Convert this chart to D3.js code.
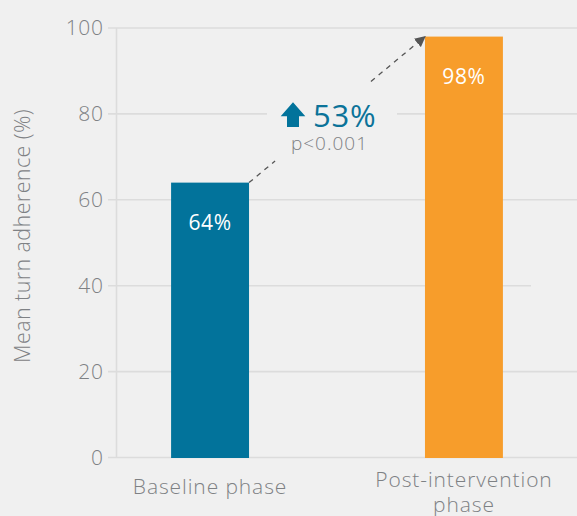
<!DOCTYPE html>
<html>
<head>
<meta charset="utf-8">
<script src="https://cdn.jsdelivr.net/npm/d3@7"></script>
<style>
  html, body { margin: 0; padding: 0; background: #f0f0f0; }
  svg { display: block; font-family: "Open Sans", sans-serif; font-weight: 300; }
</style>
</head>
<body>
<div id="canvas"></div>
<script>
"use strict";

/* ---------- data ---------- */
let categories = ["Baseline phase", "Post-intervention phase"];
let categoryLines = [["Baseline phase"], ["Post-intervention", "phase"]];
let values = [64, 98];
let valueLabels = ["64%", "98%"];
let barColors = ["#02739b", "#f79d2b"];
let yTicks = [0, 20, 40, 60, 80, 100];
let changeLabel = "53%";
let pLabel = "p<0.001";
let yTitle = "Mean turn adherence (%)";

/* ---------- layout ---------- */
let svgWidth = 577;
let svgHeight = 516;
let axisX = 116.5;
let gridColor = "#dcdcdc";
let textGray = "#7e8184";

let svg = d3.select("#canvas")
    .append("svg")
    .attr("width", svgWidth)
    .attr("height", svgHeight);

svg.append("rect")
    .attr("width", svgWidth)
    .attr("height", svgHeight)
    .attr("fill", "#f0f0f0");

/* scales */
let xScale = d3.scaleBand()
    .domain(categories)
    .range([116, 558])
    .paddingInner(0.693)
    .paddingOuter(0.217);

let yScale = d3.scaleLinear()
    .domain([0, 100])
    .range([457.5, 28]);

/* gridlines (the 40 line stops short in the original) */
svg.append("g")
    .selectAll("line")
    .data(yTicks)
    .join("line")
    .attr("x1", 108)
    .attr("x2", d => d === 40 ? 531 : svgWidth)
    .attr("y1", d => yScale(d))
    .attr("y2", d => yScale(d))
    .attr("stroke", gridColor)
    .attr("stroke-width", 1.6);

/* vertical axis line */
svg.append("line")
    .attr("x1", axisX)
    .attr("x2", axisX)
    .attr("y1", yScale(100))
    .attr("y2", yScale(0))
    .attr("stroke", gridColor)
    .attr("stroke-width", 1.6);

/* tick labels */
let yAxis = svg.append("g")
    .attr("transform", "translate(" + axisX + ",0)")
    .call(d3.axisLeft(yScale).tickValues(yTicks).tickSize(0).tickPadding(13));
yAxis.select(".domain").remove();
yAxis.selectAll("text")
    .attr("fill", textGray)
    .style("font-size", "21px")
    .style("font-family", "'Open Sans', sans-serif")
    .style("font-weight", 300)
    .style("letter-spacing", "0.6px");

/* y title */
svg.append("text")
    .attr("transform", "translate(30," + 236 + ") rotate(-90)")
    .attr("text-anchor", "middle")
    .attr("fill", textGray)
    .style("font-size", "21.5px")
    .style("letter-spacing", "0.4px")
    .text(yTitle);

/* bars */
svg.selectAll(".bar")
    .data(categories)
    .join("rect")
    .attr("class", "bar")
    .attr("x", d => xScale(d))
    .attr("y", (d, i) => yScale(values[i]))
    .attr("width", xScale.bandwidth())
    .attr("height", (d, i) => yScale(0) - yScale(values[i]) + 0.5)
    .attr("fill", (d, i) => barColors[i]);

/* value labels inside bars */
svg.selectAll(".val")
    .data(categories)
    .join("text")
    .attr("class", "val")
    .attr("x", d => xScale(d) + xScale.bandwidth() / 2)
    .attr("y", (d, i) => yScale(values[i]) + 47)
    .attr("text-anchor", "middle")
    .attr("fill", "#ffffff")
    .style("font-size", "21px")
    .style("font-weight", 400)
    .style("letter-spacing", "0.6px")
    .text((d, i) => valueLabels[i]);

/* category labels */
categories.forEach(function(cat, i) {
    let t = svg.append("text")
        .attr("x", xScale(cat) + xScale.bandwidth() / 2)
        .attr("y", categoryLines[i].length > 1 ? 487 : 494)
        .attr("text-anchor", "middle")
        .attr("fill", textGray)
        .style("font-size", "21px")
        .style("letter-spacing", "0.9px");
    categoryLines[i].forEach(function(line, j) {
        t.append("tspan")
            .attr("x", xScale(cat) + xScale.bandwidth() / 2)
            .attr("dy", j === 0 ? 0 : 25)
            .text(line);
    });
});

/* ---------- change annotation ---------- */
let x1 = xScale(categories[0]) + xScale.bandwidth();
let y1 = yScale(values[0]);
let x2 = xScale(categories[1]);
let y2 = yScale(values[1]);
let gx = (x1 + x2) / 2;
let gy = (y1 + y2) / 2;

/* gap in the 80 gridline behind the annotation */
svg.append("rect")
    .attr("x", 267)
    .attr("y", yScale(80) - 4)
    .attr("width", 130)
    .attr("height", 8)
    .attr("fill", "#f0f0f0");

svg.append("defs").append("marker")
    .attr("id", "head")
    .attr("viewBox", "0 0 10 10")
    .attr("refX", 9)
    .attr("refY", 5)
    .attr("markerWidth", 11)
    .attr("markerHeight", 11)
    .attr("markerUnits", "userSpaceOnUse")
    .attr("orient", "auto")
    .append("path")
    .attr("d", "M0,0 L10,5 L0,10 Z")
    .attr("fill", "#555555");

function along(t) {
    return [x1 + (x2 - x1) * t, y1 + (y2 - y1) * t];
}

[[0, 0.148], [0.693, 1]].forEach(function(seg, i) {
    let a = along(seg[0]);
    let b = along(seg[1]);
    let l = svg.append("line")
        .attr("x1", a[0])
        .attr("y1", a[1])
        .attr("x2", b[0])
        .attr("y2", b[1])
        .attr("stroke", "#555555")
        .attr("stroke-width", 1.3)
        .attr("stroke-dasharray", "5,5");
    if (i === 1) l.attr("marker-end", "url(#head)");
});

/* up-arrow icon */
let ax = gx - 44;
let ay = gy - 7.3;
svg.append("path")
    .attr("d", "M" + ax + "," + ay +
        " L" + (ax + 12.3) + "," + (ay + 14) +
        " L" + (ax + 6) + "," + (ay + 14) +
        " L" + (ax + 6) + "," + (ay + 24.6) +
        " L" + (ax - 6) + "," + (ay + 24.6) +
        " L" + (ax - 6) + "," + (ay + 14) +
        " L" + (ax - 12.3) + "," + (ay + 14) + " Z")
    .attr("fill", barColors[0]);

svg.append("text")
    .attr("x", gx - 24)
    .attr("y", gy + 17)
    .attr("fill", "#0b7399")
    .style("font-size", "31px")
    .style("font-weight", 400)
    .style("letter-spacing", "0.8px")
    .text(changeLabel);

svg.append("text")
    .attr("x", gx - 7.5)
    .attr("y", gy + 40)
    .attr("text-anchor", "middle")
    .attr("fill", textGray)
    .style("font-size", "19px")
    .style("letter-spacing", "1px")
    .text(pLabel);
</script>
</body>
</html>
